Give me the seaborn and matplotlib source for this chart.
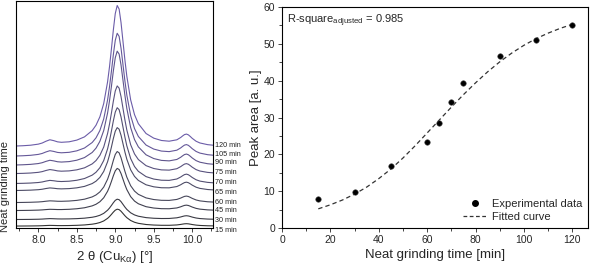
import numpy as np
import pandas as pd
import matplotlib
matplotlib.use("Agg")
import matplotlib.pyplot as plt
import seaborn as sns
from matplotlib.lines import Line2D
from matplotlib.ticker import MultipleLocator, FormatStrFormatter

# ---------------- data: left panel (stacked XRD patterns) ----------------
two_theta = [7.70, 7.80, 7.90, 8.00, 8.05, 8.10, 8.15, 8.20, 8.25, 8.30,
             8.40, 8.50, 8.60, 8.70, 8.75, 8.80, 8.85, 8.90, 8.925, 8.95,
             8.975, 9.00, 9.025, 9.05, 9.075, 9.10, 9.125, 9.15, 9.20, 9.25,
             9.30, 9.40, 9.50, 9.60, 9.70, 9.80, 9.85, 9.875, 9.90, 9.925,
             9.95, 9.975, 10.00, 10.05, 10.10, 10.20, 10.30]
# relative profile of the main reflection (~9.03 deg)
profile_main = [0.0081, 0.0094, 0.0112, 0.0134, 0.0148, 0.0164, 0.0183, 0.0205, 0.0231, 0.0263,
                0.035, 0.0488, 0.0723, 0.117, 0.155, 0.214, 0.308, 0.46, 0.566, 0.692,
                0.826, 0.941, 0.998, 0.973, 0.877, 0.746, 0.615, 0.5, 0.333, 0.229,
                0.165, 0.095, 0.061, 0.042, 0.031, 0.0237, 0.021, 0.0198, 0.0187, 0.0177,
                0.0167, 0.0159, 0.0151, 0.0137, 0.0124, 0.0104, 0.0088]
# relative profile of the small reflection (~8.15 deg)
profile_low = [0.0385, 0.062, 0.115, 0.265, 0.447, 0.764, 1.0, 0.764, 0.447, 0.265,
               0.115, 0.062, 0.0385, 0.026, 0.022, 0.0188, 0.0163, 0.0142, 0.0134, 0.0125,
               0.0118, 0.0111, 0.0105, 0.0099, 0.0094, 0.0089, 0.0085, 0.0081, 0.0073, 0.0067,
               0.0061, 0.0052, 0.0044, 0.0038, 0.0034, 0.0030, 0.0028, 0.0027, 0.0026, 0.0025,
               0.0024, 0.0023, 0.0023, 0.0021, 0.0020, 0.0019, 0.0017]
# relative profile of the small reflection (~9.93 deg)
profile_high = [0.0020, 0.0022, 0.0025, 0.0027, 0.0028, 0.0030, 0.0032, 0.0034, 0.0036, 0.0038,
                0.0043, 0.0049, 0.0057, 0.0066, 0.0072, 0.0078, 0.0086, 0.0094, 0.0099, 0.0104,
                0.0110, 0.0116, 0.0122, 0.0129, 0.0137, 0.0145, 0.0154, 0.0164, 0.0187, 0.0215,
                0.025, 0.035, 0.052, 0.0865, 0.165, 0.39, 0.64, 0.80, 0.941, 1.0,
                0.941, 0.80, 0.64, 0.39, 0.246, 0.117, 0.066]

grind_times = [15, 30, 45, 60, 65, 70, 75, 90, 105, 120]
baselines = [1.8, 8.3, 17.1, 25.0, 36.9, 43.8, 53.6, 61.9, 70.8, 80.6]
amp_main = [17.0, 20.5, 42.5, 51.5, 63.5, 76.5, 88.5, 115.0, 124.0, 142.0]
amp_low = [0.5, 0.7, 0.8, 1.2, 2.0, 2.4, 3.2, 3.7, 4.2, 5.0]
amp_high = [2.2, 3.6, 5.0, 6.0, 7.8, 8.7, 9.2, 10.0, 10.4, 10.8]
label_y = [-2, 8, 17, 26, 36, 45, 55, 65, 73, 82.3]

# ---------------- data: right panel ----------------
exp_time = [15, 30, 45, 60, 65, 70, 75, 90, 105, 120]
exp_area = [7.9, 9.7, 16.9, 23.3, 28.4, 34.3, 39.5, 46.8, 51.0, 55.1]
fit_time = [15, 20, 25, 30, 35, 40, 45, 50, 55, 60, 65, 70, 75, 80, 85, 90,
            95, 100, 105, 110, 115, 120]
fit_area = [5.2, 6.3, 7.6, 9.2, 11.1, 13.4, 16.0, 19.0, 22.3, 25.8, 29.3, 32.8,
            36.2, 39.4, 42.4, 45.1, 47.5, 49.6, 51.4, 52.9, 54.2, 55.3]

# ---------------- style ----------------
sns.set_style("ticks")
plt.rcParams['font.family'] = ['Liberation Sans', 'DejaVu Sans']
plt.rcParams['mathtext.default'] = 'regular'
plt.rcParams['axes.edgecolor'] = 'black'
plt.rcParams['axes.linewidth'] = 0.8

line_colors = ['#333333', '#3a3a44', '#40404f', '#47475a', '#4d4c66',
               '#534f72', '#59527e', '#5f558c', '#655899', '#6b5ca8']

fig = plt.figure(figsize=(5.91, 2.69), dpi=100)
ax1 = fig.add_axes([16 / 591, 41 / 269, 197 / 591, 227 / 269])
ax2 = fig.add_axes([282 / 591, 41 / 269, 306 / 591, 221 / 269])

x_arr = np.array(two_theta)
rows = []
for i, t in enumerate(grind_times):
    y = (baselines[i] + amp_main[i] * np.array(profile_main)
         + amp_low[i] * np.array(profile_low) + amp_high[i] * np.array(profile_high))
    rows.append(pd.DataFrame({"two_theta": x_arr, "intensity": y, "time": t}))
df_xrd = pd.concat(rows, ignore_index=True)

palette = {t: c for t, c in zip(grind_times, line_colors)}
sns.lineplot(data=df_xrd, x="two_theta", y="intensity", hue="time", palette=palette,
             estimator=None, sort=False, linewidth=0.8, legend=False, ax=ax1)

ax1.set_xlim(7.71, 10.27)
ax1.set_ylim(0, 227)
ax1.set_yticks([])
ax1.xaxis.set_major_locator(MultipleLocator(0.5))
ax1.xaxis.set_minor_locator(MultipleLocator(0.25))
ax1.xaxis.set_major_formatter(FormatStrFormatter('%.1f'))
ax1.tick_params(axis='x', which='major', labelsize=7.5, length=3, width=0.6, pad=2)
ax1.tick_params(axis='x', which='minor', length=2, width=0.6)
ax1.set_xlabel("2 θ (Cu$_{Kα}$) [°]", fontsize=9.5, labelpad=3)
ax1.set_ylabel("")
for i, t in enumerate(grind_times):
    ax1.text(10.30, label_y[i], f"{t} min", fontsize=5.2, ha='left', va='center',
             clip_on=False, color='#222222')
fig.text(5 / 591, 1 - 186 / 269, "Neat grinding time", rotation=90, fontsize=8,
         ha='center', va='center')

# right panel
sns.lineplot(x=fit_time, y=fit_area, ax=ax2, color='#333333', linewidth=0.9,
             linestyle=(0, (3.5, 2.5)), legend=False)
sns.scatterplot(x=exp_time, y=exp_area, ax=ax2, color='black', s=16,
                edgecolor='#555555', linewidth=0.4, legend=False, zorder=3)

ax2.set_xlim(0, 126.5)
ax2.set_ylim(0, 60)
ax2.xaxis.set_major_locator(MultipleLocator(20))
ax2.xaxis.set_minor_locator(MultipleLocator(10))
ax2.yaxis.set_major_locator(MultipleLocator(10))
ax2.yaxis.set_minor_locator(MultipleLocator(5))
ax2.tick_params(axis='both', which='major', labelsize=7.5, length=3, width=0.6, pad=2)
ax2.tick_params(axis='both', which='minor', length=2, width=0.6)
ax2.set_xlabel("Neat grinding time [min]", fontsize=9.5, labelpad=3)
ax2.set_ylabel("Peak area [a. u.]", fontsize=9.5, labelpad=1)
ax2.text(0.015, 0.975, "R-square$_{adjusted}$ = 0.985", transform=ax2.transAxes,
         ha='left', va='top', fontsize=8)

handles = [Line2D([], [], marker='o', color='black', linestyle='none', markersize=4),
           Line2D([], [], color='#333333', linestyle=(0, (3, 2)), linewidth=0.9)]
ax2.legend(handles, ["Experimental data", "Fitted curve"], loc='lower right',
           frameon=False, fontsize=8, handlelength=2.2, borderaxespad=0.15,
           labelspacing=0.25, handletextpad=0.4)

fig.savefig("out.png", dpi=100)
